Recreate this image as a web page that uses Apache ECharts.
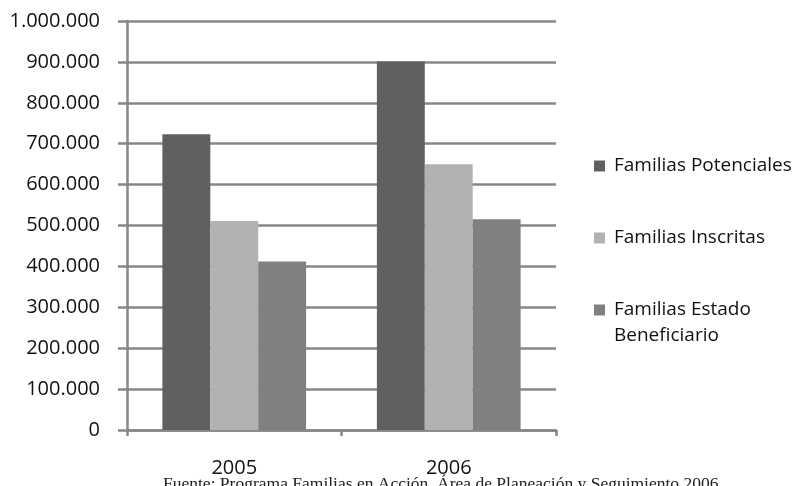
<!DOCTYPE html>
<html>
<head>
<meta charset="utf-8">
<script src="https://cdn.jsdelivr.net/npm/echarts@6/dist/echarts.min.js"></script>
<style>
  html, body { margin: 0; padding: 0; background: #ffffff; }
  #chart { width: 801px; height: 486px; }
</style>
</head>
<body>
<div id="chart"></div>
<script>
// Categories (years) and family counts per series
const years = ['2005', '2006'];
const potenciales = [723000, 901000];
const inscritas = [511000, 650000];
const estadoBeneficiario = [412000, 515000];

const seriesNames = ['Familias Potenciales', 'Familias Inscritas', 'Familias Estado Beneficiario'];
const seriesColors = ['#606060', '#b2b2b2', '#808080'];
const seriesData = [potenciales, inscritas, estadoBeneficiario];

// Y tick labels use a dot as thousands separator
function formatThousands(v) {
  return String(v).replace(/\B(?=(\d{3})+(?!\d))/g, '.');
}

const gridColor = '#878787';
const textFont = 'Open Sans';

// One legend block per series so each can be placed on its own row.
// The last name wraps onto two lines; a blank leading line keeps the
// first text line level with the colour swatch.
const legendTops = [153, 225, 271];
const legends = seriesNames.map((name, i) => {
  const twoLine = i === 2;
  return {
    show: true,
    orient: 'vertical',
    left: 594,
    top: legendTops[i],
    padding: 0,
    icon: 'rect',
    itemWidth: 11,
    itemHeight: 11,
    data: [name],
    formatter: n => twoLine ? ' \n' + n.replace(' Beneficiario', '\nBeneficiario') : n,
    textStyle: {
      fontFamily: textFont,
      fontSize: 19,
      color: '#111111',
      lineHeight: 26,
      padding: [0, 0, 0, 4]
    },
    selectedMode: false
  };
});

const chart = echarts.init(document.getElementById('chart'), null, { renderer: 'canvas' });

chart.setOption({
  animation: false,
  backgroundColor: '#ffffff',
  title: {
    text: 'Fuente: Programa Familias en Acción. Área de Planeación y Seguimiento 2006',
    left: 163,
    top: 475,
    padding: 0,
    textStyle: {
      fontFamily: 'Liberation Serif',
      fontWeight: 'normal',
      fontSize: 17.5,
      color: '#222222'
    }
  },
  legend: legends,
  grid: {
    left: 127,
    right: 245,
    top: 21,
    bottom: 56,
    containLabel: false
  },
  xAxis: {
    type: 'category',
    data: years,
    axisLine: { show: true, lineStyle: { color: gridColor, width: 2.5 } },
    axisTick: { show: true, length: 6, lineStyle: { color: gridColor, width: 2.5 } },
    axisLabel: {
      margin: 28,
      fontFamily: textFont,
      fontSize: 20,
      color: '#111111'
    },
    splitLine: { show: false }
  },
  yAxis: {
    type: 'value',
    min: 0,
    max: 1000000,
    interval: 100000,
    axisLine: { show: true, lineStyle: { color: gridColor, width: 2.5 } },
    axisTick: { show: true, length: 9, lineStyle: { color: gridColor, width: 2.5 } },
    axisLabel: {
      margin: 27,
      fontFamily: textFont,
      fontSize: 20,
      color: '#111111',
      formatter: formatThousands
    },
    splitLine: { show: true, lineStyle: { color: gridColor, width: 2.5 } }
  },
  series: seriesNames.map((name, i) => ({
    name: name,
    type: 'bar',
    data: seriesData[i],
    barGap: '0%',
    barCategoryGap: '33%',
    itemStyle: { color: seriesColors[i] }
  }))
});
</script>
</body>
</html>
